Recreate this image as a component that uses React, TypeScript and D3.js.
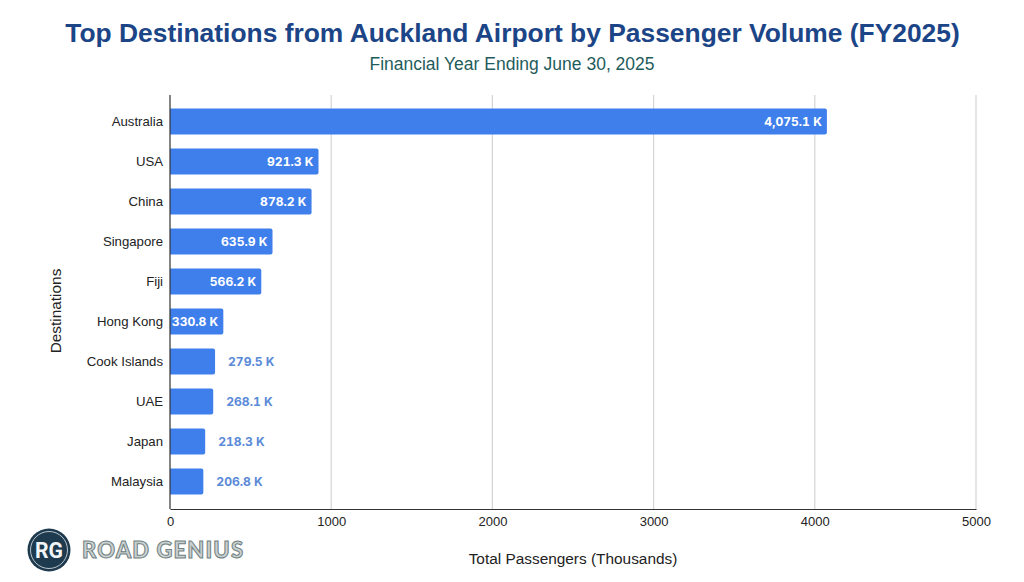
import { useEffect, useRef } from 'react';
import * as d3 from 'd3';

const destinations = ['Australia', 'USA', 'China', 'Singapore', 'Fiji', 'Hong Kong', 'Cook Islands', 'UAE', 'Japan', 'Malaysia'];
const passengers = [4075.1, 921.3, 878.2, 635.9, 566.2, 330.8, 279.5, 268.1, 218.3, 206.8];
const xTicks = [0, 1000, 2000, 3000, 4000, 5000];
const insideLabelMin = 300;

const width = 1024;
const height = 582;
const FONT = '"Liberation Sans", Arial, sans-serif';

export default function App() {
  const svgRef = useRef<SVGSVGElement>(null);

  useEffect(() => {
    if (!svgRef.current) return;
    const svg = d3.select(svgRef.current);
    svg.selectAll('*').remove();

    const plot = { left: 170, right: 976, top: 95, bottom: 509 };

    const x = d3.scaleLinear().domain([0, 5000]).range([plot.left, plot.right]);
    const y = d3.scaleBand<string>().domain(destinations).range([101.5, 501.5]).paddingInner(0.35).paddingOuter(0.175);

    svg.append('rect').attr('width', width).attr('height', height).attr('fill', '#ffffff');

    // Titles
    svg.append('text')
      .attr('x', 512.5).attr('y', 42)
      .attr('text-anchor', 'middle')
      .attr('font-family', FONT)
      .attr('font-weight', 700)
      .attr('font-size', 26.4)
      .attr('fill', '#1c4587')
      .text('Top Destinations from Auckland Airport by Passenger Volume (FY2025)');

    svg.append('text')
      .attr('x', 512).attr('y', 70)
      .attr('text-anchor', 'middle')
      .attr('font-family', FONT)
      .attr('font-size', 17.5)
      .attr('fill', '#1f5c5c')
      .text('Financial Year Ending June 30, 2025');

    // Gridlines
    svg.append('g')
      .selectAll('line')
      .data(xTicks.slice(1))
      .join('line')
      .attr('x1', d => x(d)).attr('x2', d => x(d))
      .attr('y1', plot.top).attr('y2', plot.bottom)
      .attr('stroke', '#d4d4d4')
      .attr('stroke-width', 1.2);

    // Bars
    svg.append('g')
      .selectAll('path')
      .data(destinations)
      .join('path')
      .attr('fill', '#3f7fec')
      .attr('d', (d, i) => {
        const x0 = x(0);
        const x1 = x(passengers[i]);
        const y0 = y(d)!;
        const y1 = y0 + y.bandwidth();
        const r = 2;
        return `M${x0},${y0}H${x1 - r}Q${x1},${y0} ${x1},${y0 + r}V${y1 - r}Q${x1},${y1} ${x1 - r},${y1}H${x0}Z`;
      });

    // Value labels: inside for the long bars, outside for the short ones
    svg.append('g')
      .selectAll('text')
      .data(destinations)
      .join('text')
      .attr('x', (_, i) => passengers[i] > insideLabelMin ? x(passengers[i]) - 5 : x(passengers[i]) + 13)
      .attr('y', d => y(d)! + y.bandwidth() / 2)
      .attr('dy', '0.35em')
      .attr('text-anchor', (_, i) => passengers[i] > insideLabelMin ? 'end' : 'start')
      .attr('font-family', 'Inter, Roboto, sans-serif')
      .attr('font-weight', 700)
      .attr('font-size', 12.1)
      .style('font-variant-numeric', 'tabular-nums')
      .attr('fill', (_, i) => passengers[i] > insideLabelMin ? '#ffffff' : '#5b8ad8')
      .text((_, i) => `${d3.format(',.1f')(passengers[i])} K`);

    // Axes
    const xAxis = svg.append('g')
      .attr('transform', `translate(0,${plot.bottom})`)
      .call(d3.axisBottom(x).tickValues(xTicks).tickFormat(d3.format('d')).tickSize(0).tickPadding(8));
    xAxis.select('.domain').attr('stroke', '#333333').attr('stroke-width', 1.2);
    xAxis.selectAll('text').attr('font-family', FONT).attr('font-size', 13).attr('fill', '#222222');

    const yAxis = svg.append('g')
      .attr('transform', `translate(${plot.left},0)`)
      .call(d3.axisLeft(y).tickSize(0).tickPadding(7));
    yAxis.select('.domain').attr('d', `M0,${plot.top}V${plot.bottom}`).attr('stroke', '#333333').attr('stroke-width', 1.2);
    yAxis.selectAll('text').attr('font-family', FONT).attr('font-size', 13.2).attr('fill', '#222222');

    // Axis titles
    svg.append('text')
      .attr('x', 573).attr('y', 564)
      .attr('text-anchor', 'middle')
      .attr('font-family', FONT)
      .attr('font-size', 15.4)
      .attr('fill', '#222222')
      .text('Total Passengers (Thousands)');

    svg.append('text')
      .attr('transform', 'translate(61,311) rotate(-90)')
      .attr('text-anchor', 'middle')
      .attr('font-family', FONT)
      .attr('font-size', 15.4)
      .attr('fill', '#222222')
      .text('Destinations');

    // Logo
    const logo = svg.append('g');
    logo.append('circle').attr('cx', 49).attr('cy', 550).attr('r', 21.5).attr('fill', '#1e3a4f');
    logo.append('circle').attr('cx', 49).attr('cy', 550).attr('r', 18.5).attr('fill', 'none').attr('stroke', '#dfe6ea').attr('stroke-width', 0.8);
    logo.append('text')
      .attr('x', 49).attr('y', 558)
      .attr('text-anchor', 'middle')
      .attr('font-family', 'Roboto, sans-serif')
      .attr('font-weight', 700)
      .attr('font-size', 22)
      .attr('textLength', 28)
      .attr('lengthAdjust', 'spacingAndGlyphs')
      .attr('fill', '#f2f5f7')
      .text('RG');
    logo.append('text')
      .attr('x', 82).attr('y', 558)
      .attr('font-family', 'Lato, sans-serif')
      .attr('font-weight', 900)
      .attr('font-size', 22)
      .attr('textLength', 161)
      .attr('fill', '#c9d0d0')
      .attr('stroke', '#6f7f7f')
      .attr('stroke-width', 1)
      .text('ROAD GENIUS');
  }, []);

  return (
    <svg
      ref={svgRef}
      width={width}
      height={height}
      style={{ position: 'absolute', left: 0, top: 0, display: 'block' }}
    />
  );
}
